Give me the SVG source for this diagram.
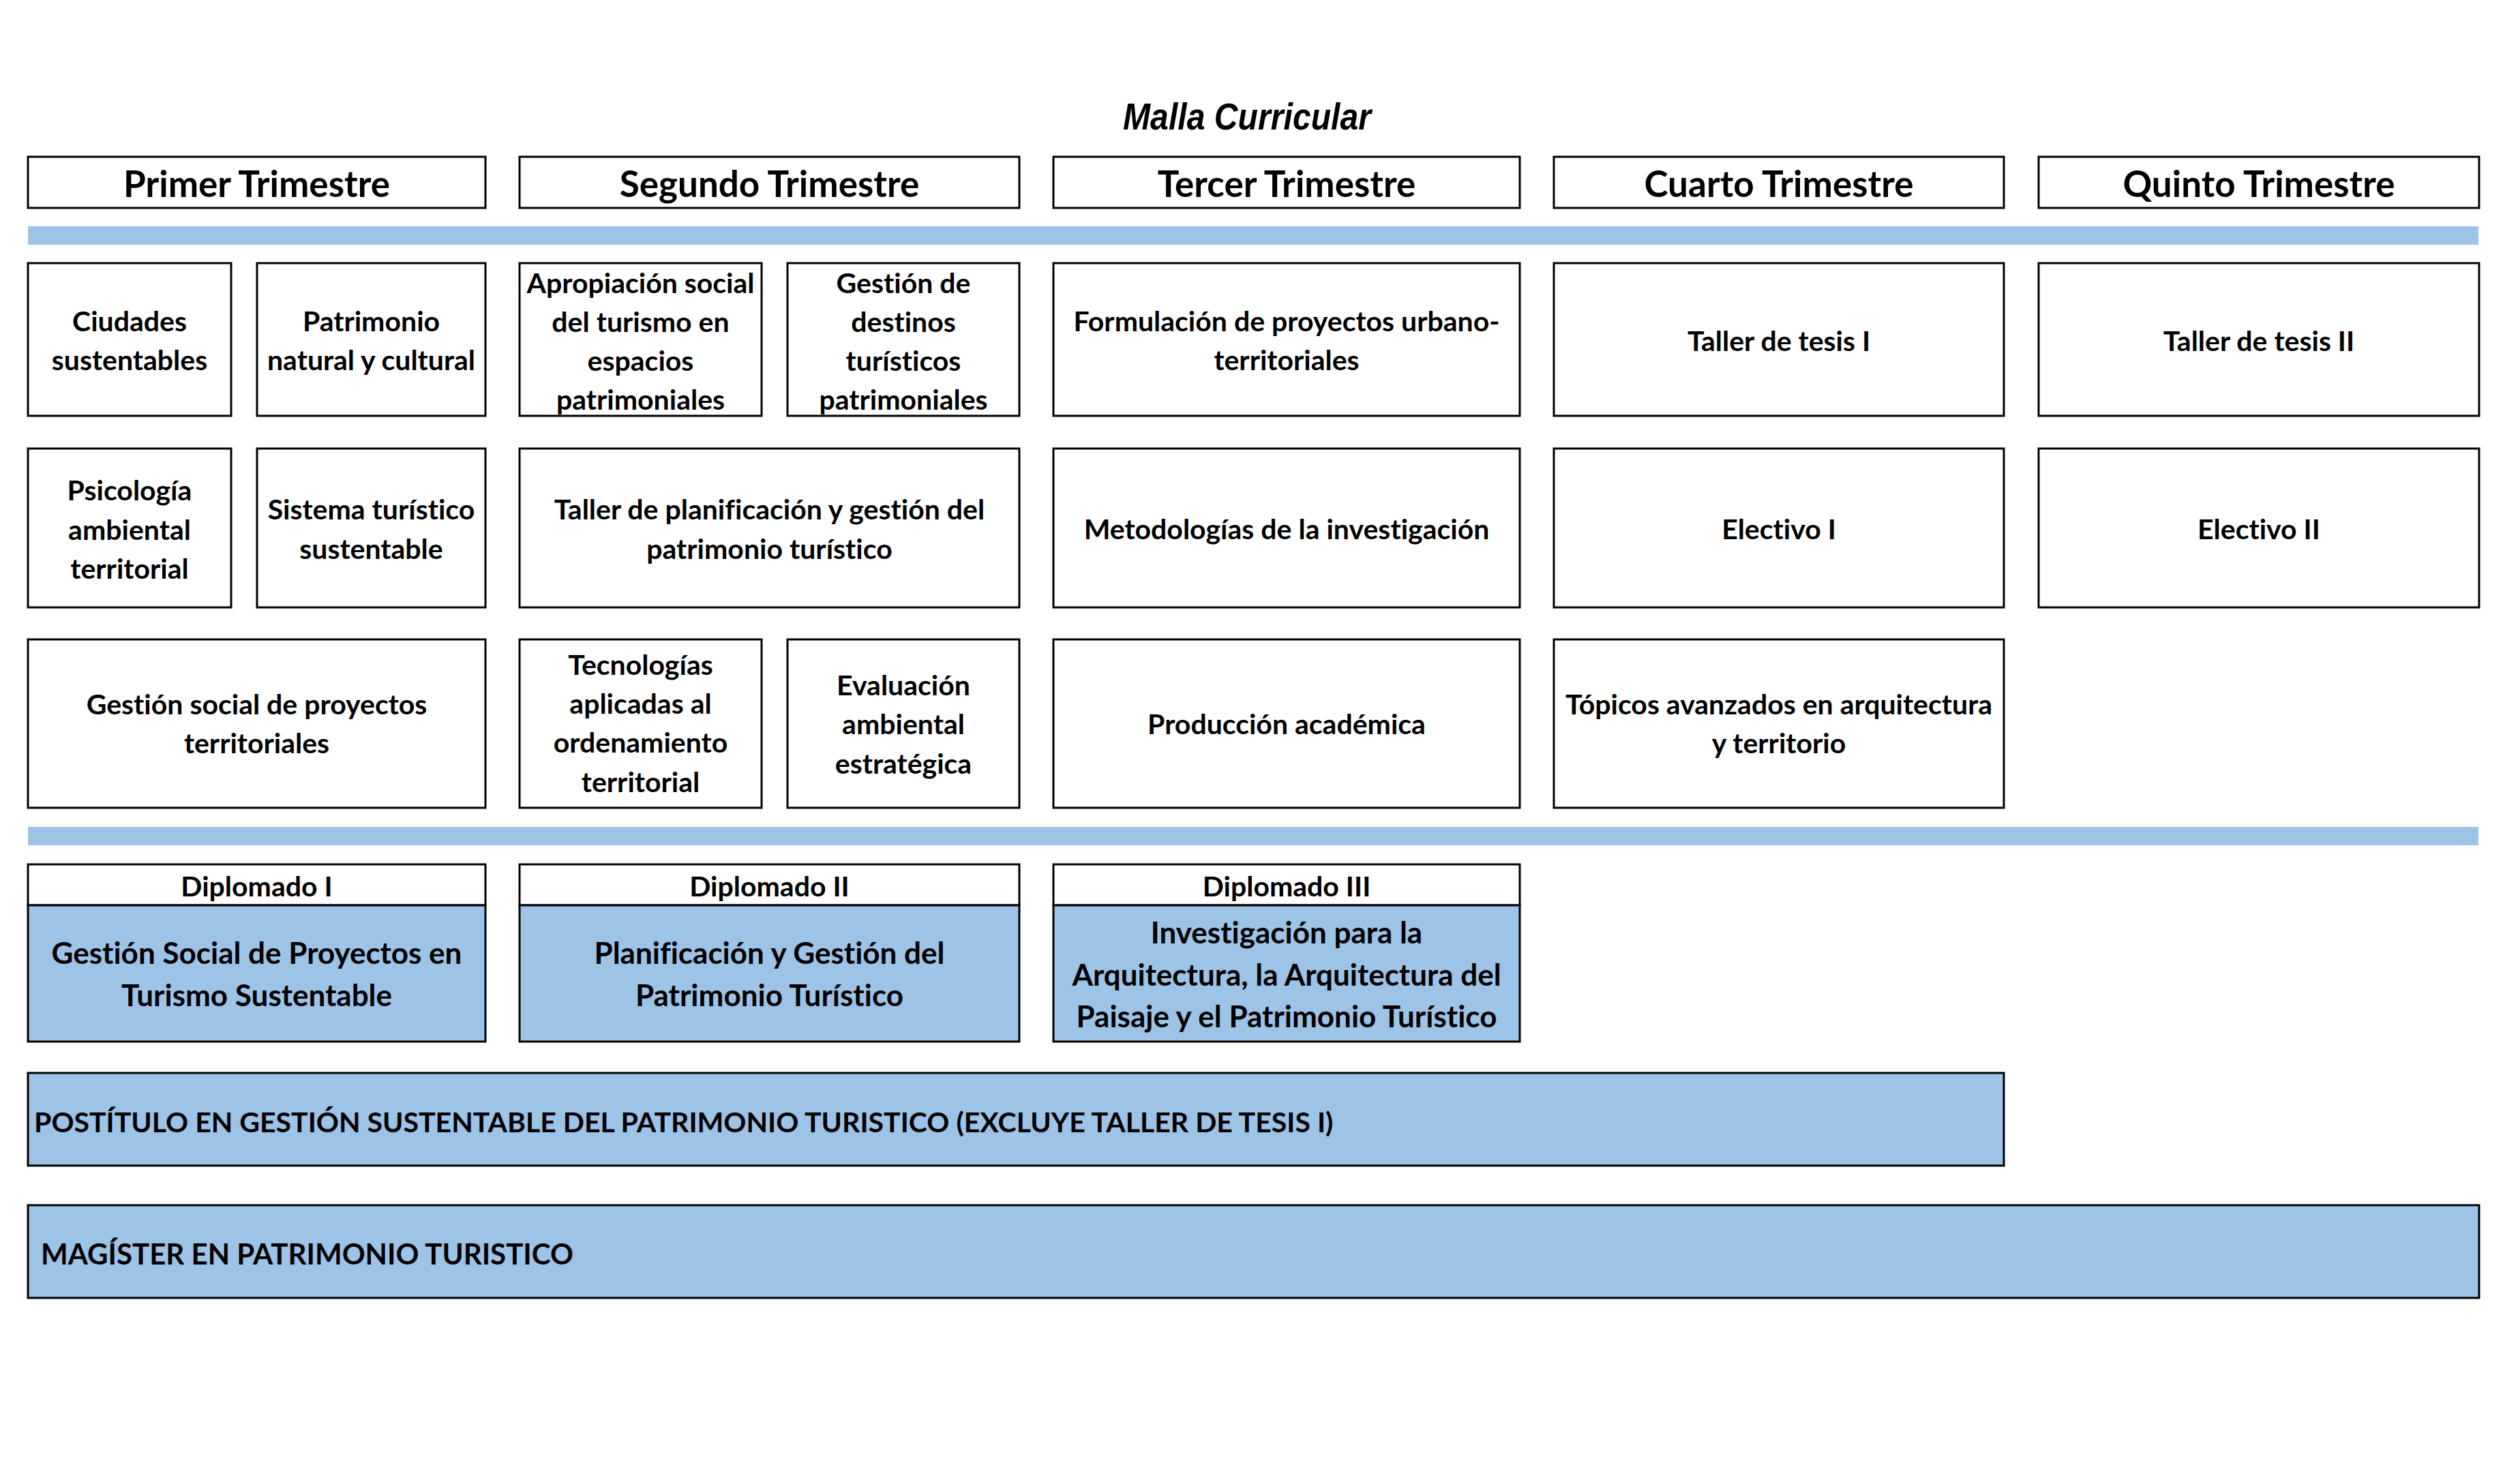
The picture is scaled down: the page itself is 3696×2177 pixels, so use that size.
<svg xmlns="http://www.w3.org/2000/svg" width="3696" height="2177" viewBox="0 0 3696 2177">
<style>
.box{fill:#ffffff;stroke:#000000;stroke-width:3}
.blue{fill:#9DC3E6;stroke:#000000;stroke-width:3}
.bar{fill:#9DC3E6;stroke:none}
text{font-family:Lato,"Liberation Sans",sans-serif;font-weight:bold;fill:#000000;font-variant-ligatures:none}
.h{font-size:53px;text-anchor:middle}
.t{font-size:41px;text-anchor:middle}
.dh{font-size:41px;text-anchor:middle}
.db{font-size:44px;text-anchor:middle}
.post{font-size:41px}
.mag{font-size:42px}
.title{font-family:"Liberation Sans Narrow","Liberation Sans",sans-serif;font-style:italic;font-size:56px;text-anchor:middle}
</style>
<rect width="3696" height="2177" fill="#ffffff"/>
<g id="title"><text class="title" x="1829" y="190" textLength="364" lengthAdjust="spacingAndGlyphs">Malla Curricular</text></g>

<g id="h1"><rect class="box" x="41" y="230" width="671" height="75"/><text class="h" x="376.5" y="289">Primer Trimestre</text></g>
<g id="h2"><rect class="box" x="762" y="230" width="733" height="75"/><text class="h" x="1128.5" y="289">Segundo Trimestre</text></g>
<g id="h3"><rect class="box" x="1545" y="230" width="684" height="75"/><text class="h" x="1887" y="289">Tercer Trimestre</text></g>
<g id="h4"><rect class="box" x="2279" y="230" width="660" height="75"/><text class="h" x="2609" y="289">Cuarto Trimestre</text></g>
<g id="h5"><rect class="box" x="2990" y="230" width="646" height="75"/><text class="h" x="3313" y="289">Quinto Trimestre</text></g>

<g id="bar1"><rect class="bar" x="41" y="332" width="3594" height="27"/></g>

<g id="c1"><rect class="box" x="41" y="386" width="298" height="224"/><text class="t" x="190" y="486">Ciudades</text><text class="t" x="190" y="543">sustentables</text></g>
<g id="c2"><rect class="box" x="377" y="386" width="335" height="224"/><text class="t" x="544.5" y="486">Patrimonio</text><text class="t" x="544.5" y="543">natural y cultural</text></g>
<g id="c3"><rect class="box" x="762" y="386" width="355" height="224"/><text class="t" x="939.5" y="430">Apropiación social</text><text class="t" x="939.5" y="487">del turismo en</text><text class="t" x="939.5" y="544">espacios</text><text class="t" x="939.5" y="601">patrimoniales</text></g>
<g id="c4"><rect class="box" x="1155" y="386" width="340" height="224"/><text class="t" x="1325" y="430">Gestión de</text><text class="t" x="1325" y="487">destinos</text><text class="t" x="1325" y="544">turísticos</text><text class="t" x="1325" y="601">patrimoniales</text></g>
<g id="c5"><rect class="box" x="1545" y="386" width="684" height="224"/><text class="t" x="1887" y="486">Formulación de proyectos urbano-</text><text class="t" x="1887" y="543">territoriales</text></g>
<g id="c6"><rect class="box" x="2279" y="386" width="660" height="224"/><text class="t" x="2609" y="515">Taller de tesis I</text></g>
<g id="c7"><rect class="box" x="2990" y="386" width="646" height="224"/><text class="t" x="3313" y="515">Taller de tesis II</text></g>

<g id="c8"><rect class="box" x="41" y="658" width="298" height="233"/><text class="t" x="190" y="734">Psicología</text><text class="t" x="190" y="792">ambiental</text><text class="t" x="190" y="849">territorial</text></g>
<g id="c9"><rect class="box" x="377" y="658" width="335" height="233"/><text class="t" x="544.5" y="762">Sistema turístico</text><text class="t" x="544.5" y="820">sustentable</text></g>
<g id="c10"><rect class="box" x="762" y="658" width="733" height="233"/><text class="t" x="1128.5" y="762">Taller de planificación y gestión del</text><text class="t" x="1128.5" y="820">patrimonio turístico</text></g>
<g id="c11"><rect class="box" x="1545" y="658" width="684" height="233"/><text class="t" x="1887" y="791">Metodologías de la investigación</text></g>
<g id="c12"><rect class="box" x="2279" y="658" width="660" height="233"/><text class="t" x="2609" y="791">Electivo I</text></g>
<g id="c13"><rect class="box" x="2990" y="658" width="646" height="233"/><text class="t" x="3313" y="791">Electivo II</text></g>

<g id="c14"><rect class="box" x="41" y="938" width="671" height="247"/><text class="t" x="376.5" y="1048">Gestión social de proyectos</text><text class="t" x="376.5" y="1105">territoriales</text></g>
<g id="c15"><rect class="box" x="762" y="938" width="355" height="247"/><text class="t" x="939.5" y="990">Tecnologías</text><text class="t" x="939.5" y="1047">aplicadas al</text><text class="t" x="939.5" y="1104">ordenamiento</text><text class="t" x="939.5" y="1162">territorial</text></g>
<g id="c16"><rect class="box" x="1155" y="938" width="340" height="247"/><text class="t" x="1325" y="1020">Evaluación</text><text class="t" x="1325" y="1077">ambiental</text><text class="t" x="1325" y="1135">estratégica</text></g>
<g id="c17"><rect class="box" x="1545" y="938" width="684" height="247"/><text class="t" x="1887" y="1077">Producción académica</text></g>
<g id="c18"><rect class="box" x="2279" y="938" width="660" height="247"/><text class="t" x="2609" y="1048">Tópicos avanzados en arquitectura</text><text class="t" x="2609" y="1105">y territorio</text></g>

<g id="bar2"><rect class="bar" x="41" y="1213" width="3594" height="27"/></g>

<g id="d1"><rect class="box" x="41" y="1268" width="671" height="60"/><rect class="blue" x="41" y="1328" width="671" height="200"/><text class="dh" x="376.5" y="1315">Diplomado I</text><text class="db" x="376.5" y="1414">Gestión Social de Proyectos en</text><text class="db" x="376.5" y="1476">Turismo Sustentable</text></g>
<g id="d2"><rect class="box" x="762" y="1268" width="733" height="60"/><rect class="blue" x="762" y="1328" width="733" height="200"/><text class="dh" x="1128.5" y="1315">Diplomado II</text><text class="db" x="1128.5" y="1414">Planificación y Gestión del</text><text class="db" x="1128.5" y="1476">Patrimonio Turístico</text></g>
<g id="d3"><rect class="box" x="1545" y="1268" width="684" height="60"/><rect class="blue" x="1545" y="1328" width="684" height="200"/><text class="dh" x="1887" y="1315">Diplomado III</text><text class="db" x="1887" y="1384">Investigación para la</text><text class="db" x="1887" y="1446">Arquitectura, la Arquitectura del</text><text class="db" x="1887" y="1507">Paisaje y el Patrimonio Turístico</text></g>

<g id="postitulo"><rect class="blue" x="41" y="1574" width="2898" height="136"/><text class="post" x="50" y="1661">POSTÍTULO EN GESTIÓN SUSTENTABLE DEL PATRIMONIO TURISTICO (EXCLUYE TALLER DE TESIS I)</text></g>
<g id="magister"><rect class="blue" x="41" y="1768" width="3595" height="136"/><text class="mag" x="60" y="1855">MAGÍSTER EN PATRIMONIO TURISTICO</text></g>

<g id="connectors"/>
</svg>
